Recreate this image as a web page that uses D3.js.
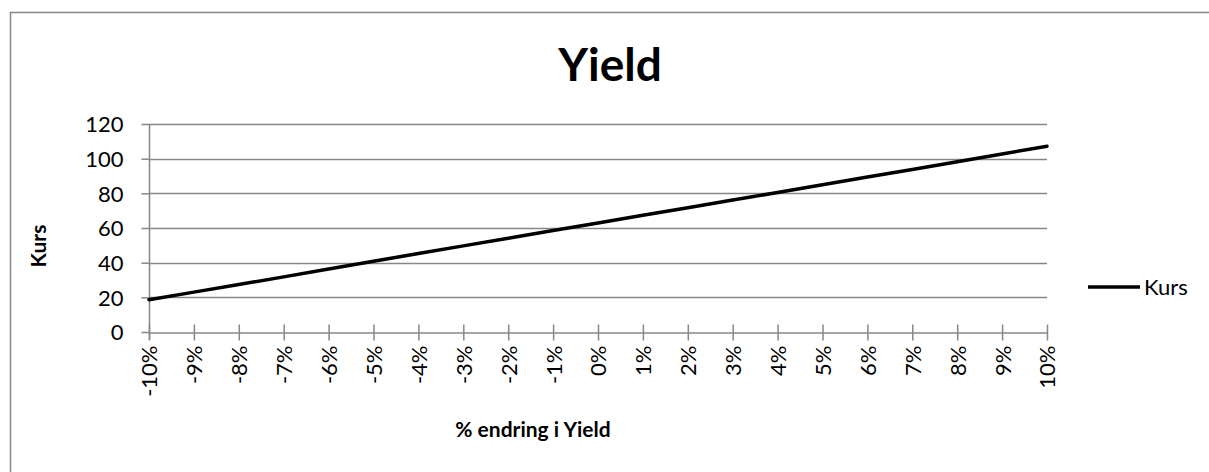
<!DOCTYPE html>
<html>
<head>
<meta charset="utf-8">
<script src="https://cdn.jsdelivr.net/npm/d3@7"></script>
<style>
  html, body { margin: 0; padding: 0; background: #fff; }
  svg { display: block; }
  text { font-family: Lato, "Open Sans", "Liberation Sans", sans-serif; fill: #000; }
</style>
</head>
<body>
<svg id="chart" width="1209" height="472"></svg>
<script>
// Yield change categories and price ("Kurs") values
const categories = ["-10%", "-9%", "-8%", "-7%", "-6%", "-5%", "-4%", "-3%", "-2%", "-1%",
                    "0%", "1%", "2%", "3%", "4%", "5%", "6%", "7%", "8%", "9%", "10%"];
const kurs = [18.6, 23.0, 27.4, 31.8, 36.3, 40.8, 45.3, 49.7, 54.1, 58.5,
              62.9, 67.3, 71.7, 76.1, 80.5, 85.0, 89.4, 93.8, 98.2, 102.7, 107.2];
const yTicks = [0, 20, 40, 60, 80, 100, 120];

const titleText = "Yield";
const xTitle = "% endring i Yield";
const yTitle = "Kurs";
const seriesName = "Kurs";

const svg = d3.select("#chart");
const grey = "#878787";

// Outer chart frame
svg.append("rect")
  .attr("x", 10.5).attr("y", 12.5)
  .attr("width", 1400).attr("height", 600)
  .attr("fill", "none").attr("stroke", grey).attr("stroke-width", 1.5);

const plot = { left: 149, right: 1047, top: 124, bottom: 332 };

const x = d3.scalePoint().domain(categories).range([plot.left, plot.right]);
const y = d3.scaleLinear().domain([0, 120]).range([plot.bottom, plot.top]);

// Horizontal gridlines
svg.append("g")
  .selectAll("line")
  .data(yTicks.filter(d => d !== 0))
  .join("line")
  .attr("x1", plot.left).attr("x2", plot.right)
  .attr("y1", d => Math.round(y(d)) + 0.5).attr("y2", d => Math.round(y(d)) + 0.5)
  .attr("stroke", grey).attr("stroke-width", 1.5);

// Y axis
const yAxis = svg.append("g")
  .attr("transform", `translate(${plot.left + 0.5},0)`)
  .call(d3.axisLeft(y).tickValues(yTicks).tickSize(8).tickSizeOuter(0).tickPadding(18));
yAxis.select(".domain").remove();
yAxis.selectAll(".tick line").attr("stroke", grey).attr("stroke-width", 1.5);
yAxis.selectAll(".tick text")
  .style("font-size", "22px")
  .attr("dy", "0.36em");
yAxis.append("line")
  .attr("x1", 0).attr("x2", 0)
  .attr("y1", plot.top).attr("y2", plot.bottom + 8)
  .attr("stroke", grey).attr("stroke-width", 1.5);

// X axis with crossing tick marks
const xAxis = svg.append("g")
  .attr("transform", `translate(0,${plot.bottom + 0.5})`)
  .call(d3.axisBottom(x).tickSize(8).tickSizeOuter(0));
xAxis.select(".domain").attr("stroke", grey).attr("stroke-width", 1.5);
xAxis.selectAll(".tick line")
  .attr("y1", -8).attr("y2", 8)
  .attr("stroke", grey).attr("stroke-width", 1.5);
xAxis.selectAll(".tick text")
  .style("font-size", "22px")
  .attr("text-anchor", "end")
  .attr("transform", "rotate(-90)")
  .attr("x", -13)
  .attr("y", 0)
  .attr("dy", "0.36em");

// Price line
const line = d3.line()
  .x((d, i) => x(categories[i]))
  .y(d => y(d));
svg.append("path")
  .datum(kurs)
  .attr("d", line)
  .attr("fill", "none")
  .attr("stroke", "#000")
  .attr("stroke-width", 3.5)
  .attr("stroke-linejoin", "round")
  .attr("stroke-linecap", "round");

// Title
svg.append("text")
  .attr("x", 610).attr("y", 81)
  .attr("text-anchor", "middle")
  .style("font-size", "46px").style("font-weight", "bold")
  .text(titleText);

// Axis titles
svg.append("text")
  .attr("x", 533).attr("y", 437)
  .attr("text-anchor", "middle")
  .style("font-size", "21px").style("font-weight", "bold")
  .text(xTitle);

svg.append("text")
  .attr("transform", `translate(46,246) rotate(-90)`)
  .attr("text-anchor", "middle")
  .style("font-size", "21px").style("font-weight", "bold")
  .text(yTitle);

// Legend
const lg = svg.append("g").attr("transform", "translate(1088,287)");
lg.append("line")
  .attr("x1", 0).attr("x2", 52).attr("y1", 0).attr("y2", 0)
  .attr("stroke", "#000").attr("stroke-width", 3.5);
lg.append("text")
  .attr("x", 56).attr("y", 0).attr("dy", "0.36em")
  .style("font-size", "22px")
  .text(seriesName);
</script>
</body>
</html>
